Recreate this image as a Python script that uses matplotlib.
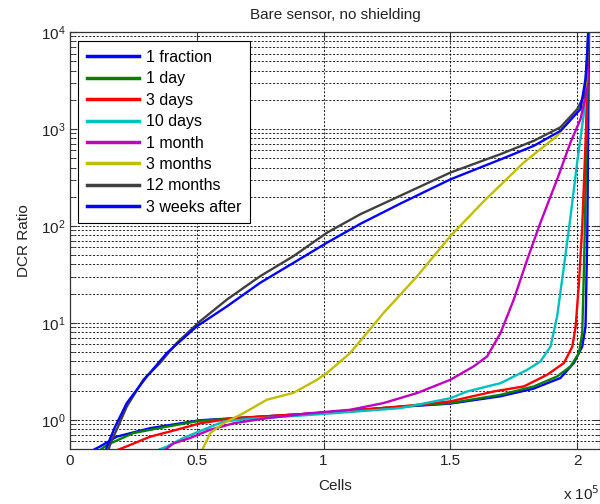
import matplotlib
matplotlib.use("Agg")
import matplotlib.pyplot as plt
import numpy as np

plt.rcParams['font.family'] = ['Liberation Sans', 'DejaVu Sans']
plt.rcParams['font.size'] = 11

# cells in units of 1e5, DCR ratio
x_fraction = [0.086, 0.118, 0.184, 0.316, 0.513, 0.711, 0.974, 1.303, 1.5, 1.698, 1.829, 1.934, 1.987, 2.02, 2.033, 2.04, 2.047]
y_fraction = [0.48, 0.53, 0.67, 0.82, 0.99, 1.06, 1.17, 1.36, 1.47, 1.75, 2.1, 2.7, 3.86, 5.7, 9.2, 85, 12000]

x_1day = [0.115, 0.145, 0.25, 0.382, 0.513, 0.711, 0.974, 1.303, 1.5, 1.698, 1.829, 1.921, 1.974, 2.007, 2.02, 2.027, 2.038, 2.045]
y_1day = [0.48, 0.55, 0.73, 0.85, 0.98, 1.06, 1.17, 1.37, 1.49, 1.81, 2.21, 2.8, 3.56, 4.89, 7.88, 38.5, 1000, 12000]

x_3days = [0.18, 0.237, 0.316, 0.421, 0.513, 0.645, 0.974, 1.303, 1.5, 1.671, 1.79, 1.882, 1.948, 1.981, 1.994, 2.007, 2.02, 2.035, 2.045]
y_3days = [0.48, 0.55, 0.67, 0.79, 0.92, 1.04, 1.17, 1.37, 1.55, 1.96, 2.21, 2.92, 3.86, 5.7, 9.2, 25.9, 99, 1000, 12000]

x_10days = [0.34, 0.382, 0.447, 0.526, 0.605, 0.7, 0.85, 1.04, 1.303, 1.5, 1.566, 1.698, 1.803, 1.855, 1.895, 1.921, 1.948, 1.974, 2.0, 2.027, 2.04, 2.045]
y_10days = [0.48, 0.53, 0.65, 0.79, 0.96, 1.02, 1.08, 1.17, 1.32, 1.67, 1.96, 2.39, 3.28, 4.0, 5.7, 11.7, 38.5, 126, 452, 1480, 4900, 12000]

x_1month = [0.37, 0.408, 0.474, 0.553, 0.645, 0.776, 0.947, 1.105, 1.237, 1.369, 1.5, 1.592, 1.645, 1.698, 1.75, 1.803, 1.855, 1.921, 1.974, 2.013, 2.04, 2.045]
y_1month = [0.48, 0.57, 0.65, 0.79, 0.92, 1.04, 1.17, 1.27, 1.49, 1.89, 2.59, 3.56, 4.51, 7.88, 17.4, 45, 108, 302, 730, 1260, 2600, 12000]

x_3months = [0.52, 0.553, 0.605, 0.684, 0.776, 0.882, 0.974, 1.013, 1.105, 1.237, 1.369, 1.5, 1.632, 1.79, 1.921, 2.013, 2.035, 2.045]
y_3months = [0.48, 0.73, 0.92, 1.17, 1.61, 1.9, 2.59, 3.04, 4.89, 12.7, 30.3, 78.5, 180, 452, 850, 1660, 3000, 12000]

x_12months = [0.15, 0.165, 0.184, 0.224, 0.289, 0.355, 0.421, 0.513, 0.619, 0.75, 0.882, 1.013, 1.145, 1.303, 1.5, 1.698, 1.829, 1.934, 2.0, 2.027, 2.04, 2.045]
y_12months = [0.48, 0.62, 0.79, 1.37, 2.59, 3.86, 6.2, 10.4, 17.4, 30.3, 48.9, 85, 132, 205, 355, 550, 755, 1040, 1600, 2200, 4900, 12000]

x_3weeks = [0.14, 0.158, 0.178, 0.224, 0.303, 0.382, 0.5, 0.619, 0.75, 0.882, 1.013, 1.145, 1.303, 1.5, 1.698, 1.829, 1.934, 2.013, 2.033, 2.04, 2.045]
y_3weeks = [0.48, 0.64, 0.85, 1.49, 2.8, 4.89, 9.2, 14.8, 25.9, 41.7, 67, 105, 170, 302, 485, 670, 955, 1600, 3300, 6600, 12000]

labels = ['1 fraction', '1 day', '3 days', '10 days', '1 month', '3 months', '12 months', '3 weeks after']
xs = [x_fraction, x_1day, x_3days, x_10days, x_1month, x_3months, x_12months, x_3weeks]
ys = [y_fraction, y_1day, y_3days, y_10days, y_1month, y_3months, y_12months, y_3weeks]
colors = ['#0000ff', '#008000', '#ff0000', '#00bfbf', '#bf00bf', '#bfbf00', '#404040', '#0000ff']

x_ticks = [0, 0.5, 1, 1.5, 2]

fig = plt.figure(figsize=(6, 5.04), dpi=100)
ax = fig.add_axes([70 / 600, 55 / 504, 530 / 600, 417 / 504])

for x, y, c, lab in zip(xs, ys, colors, labels):
    ax.plot(x, y, color=c, lw=1.7, label=lab)

ax.set_yscale('log')
ax.set_ylim(0.5, 1e4)
ax.set_xlim(0, 2.09)
ax.set_xticks(x_ticks)
ax.set_xticklabels(['%g' % t for t in x_ticks])

# matlab style dotted grid
grid_style = dict(color='black', linestyle=(0, (2.5, 2)), linewidth=0.6)
ax.grid(True, which='major', axis='both', **grid_style)
ax.grid(True, which='minor', axis='y', **grid_style)

for s in ax.spines.values():
    s.set_color('#333333')
    s.set_linewidth(0.9)
ax.tick_params(which='both', direction='in', top=True, right=True, colors='#333333', labelcolor='#222222', labelsize=11)
ax.tick_params(which='major', length=5)
ax.tick_params(which='minor', length=3)

ax.set_title('Bare sensor, no shielding', fontsize=11, color='#222222', pad=9)
ax.set_xlabel('Cells', fontsize=11, color='#222222', labelpad=8)
ax.set_ylabel('DCR Ratio', fontsize=11, color='#222222', labelpad=7)
fig.text(563 / 600, 1 - 500 / 504, r'x 10$^{5}$', fontsize=11, color='#222222', ha='left', va='baseline')

leg = ax.legend(loc='upper left', bbox_to_anchor=(0.015, 0.978), fancybox=False, framealpha=1,
                edgecolor='black', fontsize=11.5, handlelength=3.3, handletextpad=0.4,
                labelspacing=0.4, borderpad=0.55, borderaxespad=0)
leg.get_frame().set_linewidth(0.8)
for line in leg.get_lines():
    line.set_linewidth(2.5)

fig.savefig('out.png', dpi=100)
